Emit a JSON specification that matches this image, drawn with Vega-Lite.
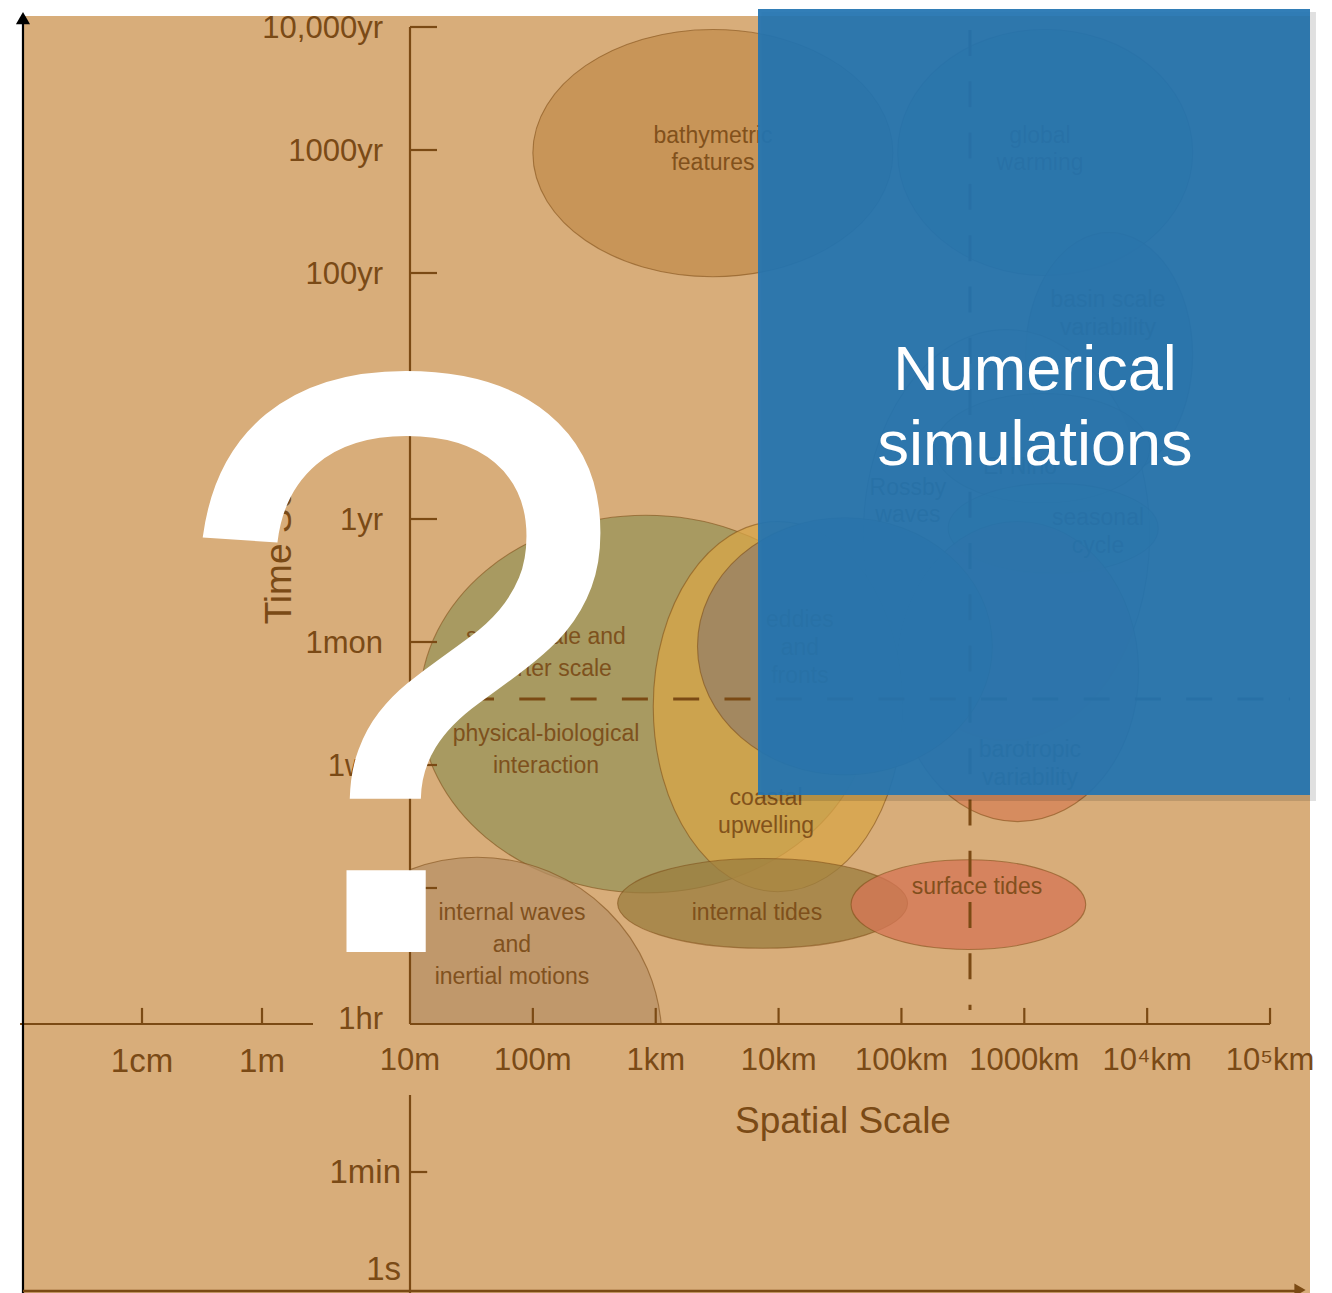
{
  "$schema": "https://vega.github.io/schema/vega-lite/v6.json",
  "width": 900,
  "height": 1024,
  "autosize": {"type": "none"},
  "padding": {"left": 410, "top": 0, "right": 22, "bottom": 269},
  "config": {"view": {"stroke": null}},
  "datasets": {
    "frame": [{"x1": -2.15, "x2": 8.3254, "t1": 4.0894, "t2": -6.2927}],
    "panel": [{"x1": 3.8325, "x2": 8.3254, "t1": 4.1463, "t2": -2.2439}],
    "panelshadow": [{"x1": 3.86, "x2": 8.374, "t1": 4.122, "t2": -2.293}],
    "ellipses": [
      {"phenomenon": "bathymetric features", "x_lo": 2.0, "x_hi": 4.93, "t_lo": 1.97, "t_hi": 3.98},
      {"phenomenon": "global warming", "x_lo": 4.97, "x_hi": 7.37, "t_lo": 1.98, "t_hi": 3.98},
      {"phenomenon": "basin scale variability", "x_lo": 6.01, "x_hi": 7.37, "t_lo": 0.34, "t_hi": 2.33},
      {"phenomenon": "Rossby waves", "x_lo": 4.69, "x_hi": 7.02, "t_lo": -1.8, "t_hi": 1.54},
      {"phenomenon": "El Niño", "x_lo": 5.27, "x_hi": 7.02, "t_lo": 0.13, "t_hi": 1.02},
      {"phenomenon": "seasonal cycle", "x_lo": 5.38, "x_hi": 7.09, "t_lo": -0.44, "t_hi": 0.29},
      {"phenomenon": "barotropic variability", "x_lo": 4.96, "x_hi": 6.93, "t_lo": -2.46, "t_hi": -0.02},
      {"phenomenon": "small-scale physical-biological interaction", "x_lo": 1.08, "x_hi": 4.76, "t_lo": -3.04, "t_hi": 0.03},
      {"phenomenon": "coastal upwelling", "x_lo": 2.98, "x_hi": 5.01, "t_lo": -3.03, "t_hi": -0.02},
      {"phenomenon": "eddies and fronts", "x_lo": 3.34, "x_hi": 5.74, "t_lo": -2.08, "t_hi": 0.01},
      {"phenomenon": "internal tides", "x_lo": 2.69, "x_hi": 5.05, "t_lo": -3.49, "t_hi": -2.76},
      {"phenomenon": "surface tides", "x_lo": 4.59, "x_hi": 6.5, "t_lo": -3.5, "t_hi": -2.77}
    ],
    "clipped": [
      {"phenomenon": "internal waves and inertial motions", "x_lo": 0.04, "x_hi": 3.05, "t_lo": -5.72, "t_hi": -2.75}
    ],
    "segments": [
      {"kind": "axis", "x1": 1, "x2": 1, "t1": 4.0, "t2": -4.1057},
      {"kind": "axis", "x1": 1, "x2": 1, "t1": -4.683, "t2": -6.2927},
      {"kind": "axis", "x1": 1, "x2": 8.0, "t1": -4.1057, "t2": -4.1057},
      {"kind": "axis", "x1": -2.174, "x2": 0.2105, "t1": -4.1057, "t2": -4.1057},
      {"kind": "axis", "x1": 1, "x2": 1.22, "t1": 4, "t2": 4},
      {"kind": "axis", "x1": 1, "x2": 1.22, "t1": 3, "t2": 3},
      {"kind": "axis", "x1": 1, "x2": 1.22, "t1": 2, "t2": 2},
      {"kind": "axis", "x1": 1, "x2": 1.22, "t1": 1, "t2": 1},
      {"kind": "axis", "x1": 1, "x2": 1.22, "t1": 0, "t2": 0},
      {"kind": "axis", "x1": 1, "x2": 1.22, "t1": -1, "t2": -1},
      {"kind": "axis", "x1": 1, "x2": 1.22, "t1": -2, "t2": -2},
      {"kind": "axis", "x1": 1, "x2": 1.22, "t1": -3, "t2": -3},
      {"kind": "axis", "x1": 1, "x2": 1.14, "t1": -5.309, "t2": -5.309},
      {"kind": "axis", "x1": -1.1813, "x2": -1.1813, "t1": -4.1057, "t2": -3.975},
      {"kind": "axis", "x1": -0.2046, "x2": -0.2046, "t1": -4.1057, "t2": -3.975},
      {"kind": "axis", "x1": 2, "x2": 2, "t1": -4.1057, "t2": -3.975},
      {"kind": "axis", "x1": 3, "x2": 3, "t1": -4.1057, "t2": -3.975},
      {"kind": "axis", "x1": 4, "x2": 4, "t1": -4.1057, "t2": -3.975},
      {"kind": "axis", "x1": 5, "x2": 5, "t1": -4.1057, "t2": -3.975},
      {"kind": "axis", "x1": 6, "x2": 6, "t1": -4.1057, "t2": -3.975},
      {"kind": "axis", "x1": 7, "x2": 7, "t1": -4.1057, "t2": -3.975},
      {"kind": "axis", "x1": 8, "x2": 8, "t1": -4.1057, "t2": -3.975},
      {"kind": "dash", "x1": 5.558, "x2": 5.558, "t1": 3.976, "t2": -3.992},
      {"kind": "dash", "x1": 1.472, "x2": 8.163, "t1": -1.463, "t2": -1.463}
    ],
    "labels": [
      {"text": "bathymetric", "x": 3.466, "t": 3.114},
      {"text": "features", "x": 3.466, "t": 2.894},
      {"text": "global", "x": 6.128, "t": 3.114},
      {"text": "warming", "x": 6.128, "t": 2.894},
      {"text": "basin scale", "x": 6.681, "t": 1.78},
      {"text": "variability", "x": 6.681, "t": 1.553},
      {"text": "El Niño", "x": 5.965, "t": 0.423},
      {"text": "Rossby", "x": 5.053, "t": 0.252},
      {"text": "waves", "x": 5.053, "t": 0.033},
      {"text": "seasonal", "x": 6.6, "t": 0.008},
      {"text": "cycle", "x": 6.6, "t": -0.22},
      {"text": "eddies", "x": 4.174, "t": -0.821},
      {"text": "and", "x": 4.174, "t": -1.049},
      {"text": "fronts", "x": 4.174, "t": -1.276},
      {"text": "barotropic", "x": 6.046, "t": -1.878},
      {"text": "variability", "x": 6.046, "t": -2.106},
      {"text": "coastal", "x": 3.898, "t": -2.268},
      {"text": "upwelling", "x": 3.898, "t": -2.496},
      {"text": "small-scale and", "x": 2.107, "t": -0.959},
      {"text": "shorter scale", "x": 2.107, "t": -1.22},
      {"text": "physical-biological", "x": 2.107, "t": -1.748},
      {"text": "interaction", "x": 2.107, "t": -2.008},
      {"text": "internal waves", "x": 1.83, "t": -3.203},
      {"text": "and", "x": 1.83, "t": -3.463},
      {"text": "inertial motions", "x": 1.83, "t": -3.724},
      {"text": "internal tides", "x": 3.824, "t": -3.203},
      {"text": "surface tides", "x": 5.615, "t": -2.992}
    ],
    "ylabels": [
      {"label": "10,000yr", "t": 4},
      {"label": "1000yr", "t": 3},
      {"label": "100yr", "t": 2},
      {"label": "1yr", "t": 0},
      {"label": "1mon", "t": -1},
      {"label": "1wk", "t": -2},
      {"label": "1hr", "t": -4.057}
    ],
    "ylabels_low": [
      {"label": "1min", "t": -5.309},
      {"label": "1s", "t": -6.098}
    ],
    "xlabels": [
      {"label": "10m", "x": 1},
      {"label": "100m", "x": 2},
      {"label": "1km", "x": 3},
      {"label": "10km", "x": 4},
      {"label": "100km", "x": 5},
      {"label": "1000km", "x": 6},
      {"label": "10⁴km", "x": 7},
      {"label": "10⁵km", "x": 8}
    ],
    "xlabels_left": [
      {"label": "1cm", "x": -1.1813},
      {"label": "1m", "x": -0.2046}
    ],
    "titles": [
      {"title": "Spatial Scale", "x": 4.524, "t": -4.992}
    ],
    "ytitle": [
      {"title": "Time Scale", "x": 0.0314, "t": -0.11}
    ],
    "overlay": [
      {"text": "Numerical", "x": 6.087, "t": 1.0488},
      {"text": "simulations", "x": 6.087, "t": 0.439}
    ],
    "question": [
      {"text": "?", "x": 0.918, "t": -3.5203}
    ],
    "arrows": [
      {"part": "vertical", "x1": -2.15, "x2": -2.15, "t1": 4.07, "t2": -6.2927},
      {"part": "horizontal", "x1": -2.15, "x2": 8.244, "t1": -6.2764, "t2": -6.2764}
    ],
    "heads": [
      {"part": "vertical", "x": -2.15, "t": 4.073},
      {"part": "horizontal", "x": 8.244, "t": -6.268}
    ]
  },
  "layer": [
    {
      "data": {"name": "frame"},
      "mark": {"type": "rect", "color": "#D8AD7A"},
      "encoding": {
        "x": {"field": "x1", "type": "quantitative", "scale": {"domain": [1, 8.3254], "nice": false, "zero": false}, "axis": null},
        "x2": {"field": "x2"},
        "y": {"field": "t1", "type": "quantitative", "scale": {"domain": [-4.1057, 4.2195], "nice": false, "zero": false}, "axis": null},
        "y2": {"field": "t2"}
      }
    },
    {
      "data": {"name": "ellipses"},
      "mark": {
        "type": "point", "filled": true, "size": 4, "opacity": 1, "fillOpacity": 0.75,
        "stroke": "#7B4A14", "strokeWidth": 1.1, "strokeOpacity": 0.55,
        "shape": {"expr": "'M0,' + (scale('y',datum.t_lo)-scale('y',datum.t_hi))/2 + 'A' + (scale('x',datum.x_hi)-scale('x',datum.x_lo))/2 + ',' + (scale('y',datum.t_lo)-scale('y',datum.t_hi))/2 + ' 0 1 1 ' + (scale('x',datum.x_hi)-scale('x',datum.x_lo)) + ',' + (scale('y',datum.t_lo)-scale('y',datum.t_hi))/2 + 'A' + (scale('x',datum.x_hi)-scale('x',datum.x_lo))/2 + ',' + (scale('y',datum.t_lo)-scale('y',datum.t_hi))/2 + ' 0 1 1 0,' + (scale('y',datum.t_lo)-scale('y',datum.t_hi))/2 + 'Z'"}
      },
      "encoding": {
        "x": {"field": "x_lo", "type": "quantitative", "scale": {"domain": [1, 8.3254], "nice": false, "zero": false}, "axis": null},
        "y": {"field": "t_hi", "type": "quantitative", "scale": {"domain": [-4.1057, 4.2195], "nice": false, "zero": false}, "axis": null},
        "color": {
          "field": "phenomenon", "type": "nominal", "legend": null,
          "scale": {
            "domain": ["bathymetric features", "global warming", "basin scale variability", "Rossby waves", "El Niño", "seasonal cycle", "barotropic variability", "small-scale physical-biological interaction", "coastal upwelling", "eddies and fronts", "internal tides", "surface tides", "internal waves and inertial motions"],
            "range": ["#C38E4D", "#A8A468", "#A0825E", "#CFA170", "#B98A5A", "#A8A060", "#D58157", "#989459", "#D8A648", "#957F67", "#9B7D3F", "#D57656", "#B89167"]
          }
        }
      }
    },
    {
      "data": {"name": "clipped"},
      "mark": {
        "type": "point", "filled": true, "size": 4, "opacity": 1, "fillOpacity": 0.75, "clip": true,
        "stroke": "#7B4A14", "strokeWidth": 1.1, "strokeOpacity": 0.55,
        "shape": {"expr": "'M0,' + (scale('y',datum.t_lo)-scale('y',datum.t_hi))/2 + 'A' + (scale('x',datum.x_hi)-scale('x',datum.x_lo))/2 + ',' + (scale('y',datum.t_lo)-scale('y',datum.t_hi))/2 + ' 0 1 1 ' + (scale('x',datum.x_hi)-scale('x',datum.x_lo)) + ',' + (scale('y',datum.t_lo)-scale('y',datum.t_hi))/2 + 'A' + (scale('x',datum.x_hi)-scale('x',datum.x_lo))/2 + ',' + (scale('y',datum.t_lo)-scale('y',datum.t_hi))/2 + ' 0 1 1 0,' + (scale('y',datum.t_lo)-scale('y',datum.t_hi))/2 + 'Z'"}
      },
      "encoding": {
        "x": {"field": "x_lo", "type": "quantitative", "scale": {"domain": [1, 8.3254], "nice": false, "zero": false}, "axis": null},
        "y": {"field": "t_hi", "type": "quantitative", "scale": {"domain": [-4.1057, 4.2195], "nice": false, "zero": false}, "axis": null},
        "color": {
          "field": "phenomenon", "type": "nominal", "legend": null,
          "scale": {
            "domain": ["bathymetric features", "global warming", "basin scale variability", "Rossby waves", "El Niño", "seasonal cycle", "barotropic variability", "small-scale physical-biological interaction", "coastal upwelling", "eddies and fronts", "internal tides", "surface tides", "internal waves and inertial motions"],
            "range": ["#C38E4D", "#A8A468", "#A0825E", "#CFA170", "#B98A5A", "#A8A060", "#D58157", "#989459", "#D8A648", "#957F67", "#9B7D3F", "#D57656", "#B89167"]
          }
        }
      }
    },
    {
      "data": {"name": "segments"},
      "transform": [{"filter": "datum.kind === 'dash'"}],
      "mark": {"type": "rule", "color": "#7B4A14", "strokeWidth": 3, "strokeDash": [26, 25.3]},
      "encoding": {
        "x": {"field": "x1", "type": "quantitative", "scale": {"domain": [1, 8.3254], "nice": false, "zero": false}, "axis": null},
        "x2": {"field": "x2"},
        "y": {"field": "t1", "type": "quantitative", "scale": {"domain": [-4.1057, 4.2195], "nice": false, "zero": false}, "axis": null},
        "y2": {"field": "t2"}
      }
    },
    {
      "data": {"name": "segments"},
      "transform": [{"filter": "datum.kind === 'axis'"}],
      "mark": {"type": "rule", "color": "#7B4A14", "strokeWidth": 2.2},
      "encoding": {
        "x": {"field": "x1", "type": "quantitative", "scale": {"domain": [1, 8.3254], "nice": false, "zero": false}, "axis": null},
        "x2": {"field": "x2"},
        "y": {"field": "t1", "type": "quantitative", "scale": {"domain": [-4.1057, 4.2195], "nice": false, "zero": false}, "axis": null},
        "y2": {"field": "t2"}
      }
    },
    {
      "data": {"name": "labels"},
      "mark": {"type": "text", "align": "center", "baseline": "middle", "fontSize": 23, "font": "Liberation Sans", "color": "#7A4A16", "opacity": 0.9},
      "encoding": {
        "x": {"field": "x", "type": "quantitative", "scale": {"domain": [1, 8.3254], "nice": false, "zero": false}, "axis": null},
        "y": {"field": "t", "type": "quantitative", "scale": {"domain": [-4.1057, 4.2195], "nice": false, "zero": false}, "axis": null},
        "text": {"field": "text"}
      }
    },
    {
      "data": {"name": "ylabels"},
      "mark": {"type": "text", "align": "right", "baseline": "alphabetic", "dx": -27, "dy": 11, "fontSize": 31, "font": "Liberation Sans", "color": "#7A4A16"},
      "encoding": {
        "x": {"datum": 1, "type": "quantitative", "scale": {"domain": [1, 8.3254], "nice": false, "zero": false}, "axis": null},
        "y": {"field": "t", "type": "quantitative", "scale": {"domain": [-4.1057, 4.2195], "nice": false, "zero": false}, "axis": null},
        "text": {"field": "label"}
      }
    },
    {
      "data": {"name": "ylabels_low"},
      "mark": {"type": "text", "align": "right", "baseline": "alphabetic", "dx": -9, "dy": 11, "fontSize": 33, "font": "Liberation Sans", "color": "#7A4A16"},
      "encoding": {
        "x": {"datum": 1, "type": "quantitative", "scale": {"domain": [1, 8.3254], "nice": false, "zero": false}, "axis": null},
        "y": {"field": "t", "type": "quantitative", "scale": {"domain": [-4.1057, 4.2195], "nice": false, "zero": false}, "axis": null},
        "text": {"field": "label"}
      }
    },
    {
      "data": {"name": "xlabels"},
      "mark": {"type": "text", "align": "center", "baseline": "alphabetic", "fontSize": 31, "font": "Liberation Sans", "color": "#7A4A16"},
      "encoding": {
        "x": {"field": "x", "type": "quantitative", "scale": {"domain": [1, 8.3254], "nice": false, "zero": false}, "axis": null},
        "y": {"datum": -4.48, "type": "quantitative", "scale": {"domain": [-4.1057, 4.2195], "nice": false, "zero": false}, "axis": null},
        "text": {"field": "label"}
      }
    },
    {
      "data": {"name": "xlabels_left"},
      "mark": {"type": "text", "align": "center", "baseline": "alphabetic", "fontSize": 33, "font": "Liberation Sans", "color": "#7A4A16"},
      "encoding": {
        "x": {"field": "x", "type": "quantitative", "scale": {"domain": [1, 8.3254], "nice": false, "zero": false}, "axis": null},
        "y": {"datum": -4.495, "type": "quantitative", "scale": {"domain": [-4.1057, 4.2195], "nice": false, "zero": false}, "axis": null},
        "text": {"field": "label"}
      }
    },
    {
      "data": {"name": "titles"},
      "mark": {"type": "text", "align": "center", "baseline": "alphabetic", "fontSize": 37, "font": "Liberation Sans", "color": "#7A4A16"},
      "encoding": {
        "x": {"field": "x", "type": "quantitative", "scale": {"domain": [1, 8.3254], "nice": false, "zero": false}, "axis": null},
        "y": {"field": "t", "type": "quantitative", "scale": {"domain": [-4.1057, 4.2195], "nice": false, "zero": false}, "axis": null},
        "text": {"field": "title"}
      }
    },
    {
      "data": {"name": "ytitle"},
      "mark": {"type": "text", "align": "center", "baseline": "alphabetic", "angle": 270, "fontSize": 37, "font": "Liberation Sans", "color": "#7A4A16"},
      "encoding": {
        "x": {"field": "x", "type": "quantitative", "scale": {"domain": [1, 8.3254], "nice": false, "zero": false}, "axis": null},
        "y": {"field": "t", "type": "quantitative", "scale": {"domain": [-4.1057, 4.2195], "nice": false, "zero": false}, "axis": null},
        "text": {"field": "title"}
      }
    },
    {
      "data": {"name": "panelshadow"},
      "mark": {"type": "rect", "color": "#000000", "opacity": 0.12},
      "encoding": {
        "x": {"field": "x1", "type": "quantitative", "scale": {"domain": [1, 8.3254], "nice": false, "zero": false}, "axis": null},
        "x2": {"field": "x2"},
        "y": {"field": "t1", "type": "quantitative", "scale": {"domain": [-4.1057, 4.2195], "nice": false, "zero": false}, "axis": null},
        "y2": {"field": "t2"}
      }
    },
    {
      "data": {"name": "panel"},
      "mark": {"type": "rect", "color": "#2274B1", "opacity": 0.93},
      "encoding": {
        "x": {"field": "x1", "type": "quantitative", "scale": {"domain": [1, 8.3254], "nice": false, "zero": false}, "axis": null},
        "x2": {"field": "x2"},
        "y": {"field": "t1", "type": "quantitative", "scale": {"domain": [-4.1057, 4.2195], "nice": false, "zero": false}, "axis": null},
        "y2": {"field": "t2"}
      }
    },
    {
      "data": {"name": "overlay"},
      "mark": {"type": "text", "align": "center", "baseline": "alphabetic", "fontSize": 63, "font": "Liberation Sans", "color": "#FFFFFF"},
      "encoding": {
        "x": {"field": "x", "type": "quantitative", "scale": {"domain": [1, 8.3254], "nice": false, "zero": false}, "axis": null},
        "y": {"field": "t", "type": "quantitative", "scale": {"domain": [-4.1057, 4.2195], "nice": false, "zero": false}, "axis": null},
        "text": {"field": "text"}
      }
    },
    {
      "data": {"name": "question"},
      "mark": {"type": "text", "align": "center", "baseline": "alphabetic", "fontSize": 832, "font": "Liberation Sans", "color": "#FFFFFF"},
      "encoding": {
        "x": {"field": "x", "type": "quantitative", "scale": {"domain": [1, 8.3254], "nice": false, "zero": false}, "axis": null},
        "y": {"field": "t", "type": "quantitative", "scale": {"domain": [-4.1057, 4.2195], "nice": false, "zero": false}, "axis": null},
        "text": {"field": "text"}
      }
    },
    {
      "data": {"name": "arrows"},
      "transform": [{"filter": "datum.part === 'vertical'"}],
      "mark": {"type": "rule", "color": "#000000", "strokeWidth": 2.2},
      "encoding": {
        "x": {"field": "x1", "type": "quantitative", "scale": {"domain": [1, 8.3254], "nice": false, "zero": false}, "axis": null},
        "x2": {"field": "x2"},
        "y": {"field": "t1", "type": "quantitative", "scale": {"domain": [-4.1057, 4.2195], "nice": false, "zero": false}, "axis": null},
        "y2": {"field": "t2"}
      }
    },
    {
      "data": {"name": "arrows"},
      "transform": [{"filter": "datum.part === 'horizontal'"}],
      "mark": {"type": "rule", "color": "#7B4A14", "strokeWidth": 2.5},
      "encoding": {
        "x": {"field": "x1", "type": "quantitative", "scale": {"domain": [1, 8.3254], "nice": false, "zero": false}, "axis": null},
        "x2": {"field": "x2"},
        "y": {"field": "t1", "type": "quantitative", "scale": {"domain": [-4.1057, 4.2195], "nice": false, "zero": false}, "axis": null},
        "y2": {"field": "t2"}
      }
    },
    {
      "data": {"name": "heads"},
      "transform": [{"filter": "datum.part === 'vertical'"}],
      "mark": {"type": "point", "shape": "triangle-up", "filled": true, "size": 200, "opacity": 1, "color": "#000000"},
      "encoding": {
        "x": {"field": "x", "type": "quantitative", "scale": {"domain": [1, 8.3254], "nice": false, "zero": false}, "axis": null},
        "y": {"field": "t", "type": "quantitative", "scale": {"domain": [-4.1057, 4.2195], "nice": false, "zero": false}, "axis": null}
      }
    },
    {
      "data": {"name": "heads"},
      "transform": [{"filter": "datum.part === 'horizontal'"}],
      "mark": {"type": "point", "shape": "triangle-right", "filled": true, "size": 170, "opacity": 1, "color": "#7B4A14"},
      "encoding": {
        "x": {"field": "x", "type": "quantitative", "scale": {"domain": [1, 8.3254], "nice": false, "zero": false}, "axis": null},
        "y": {"field": "t", "type": "quantitative", "scale": {"domain": [-4.1057, 4.2195], "nice": false, "zero": false}, "axis": null}
      }
    }
  ]
}
